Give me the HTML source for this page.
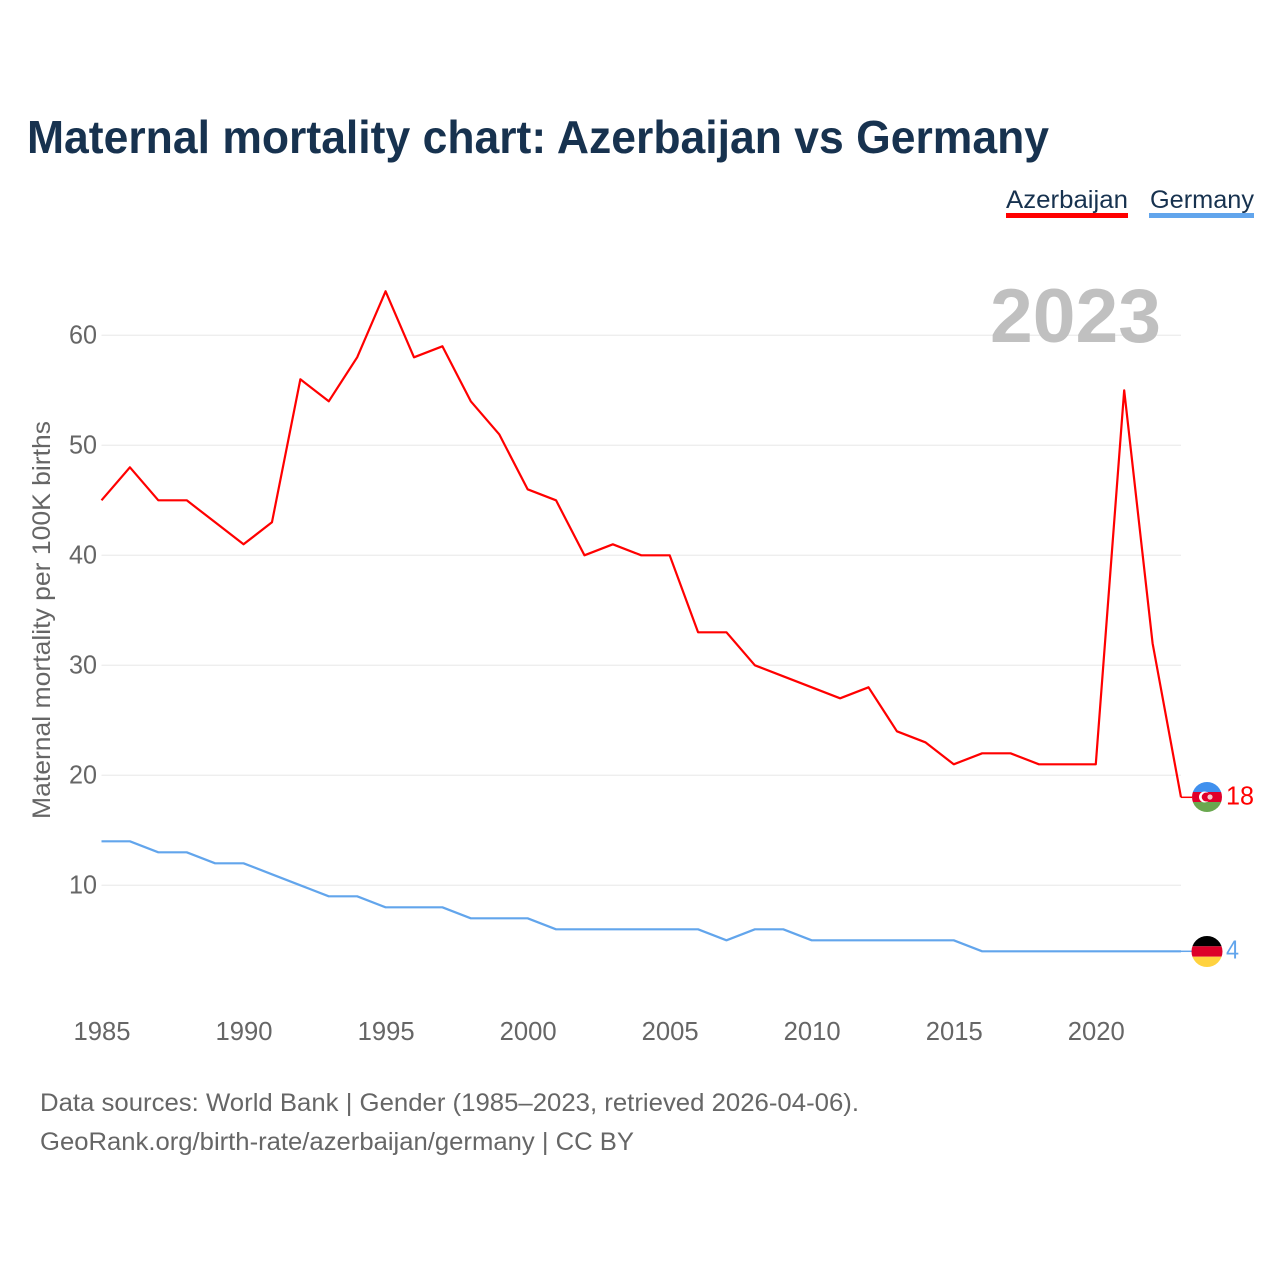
<!DOCTYPE html>
<html lang="en">
<head>
<meta charset="utf-8">
<title>Maternal mortality chart: Azerbaijan vs Germany</title>
<style>
html,body{margin:0;padding:0;background:#fff;}
svg{display:block;}
text{font-family:"Liberation Sans",sans-serif;}
</style>
</head>
<body>
<svg id="chart" xmlns="http://www.w3.org/2000/svg" width="1280" height="1280" viewBox="0 0 1280 1280">
  <rect x="0" y="0" width="1280" height="1280" fill="#fff"/>
  <text x="27" y="153" font-size="46" font-weight="700" fill="#17324f" textLength="1022" lengthAdjust="spacingAndGlyphs">Maternal mortality chart: Azerbaijan vs Germany</text>

  <g>
    <text x="1006" y="208" font-size="25" fill="#17324f" textLength="122" lengthAdjust="spacingAndGlyphs">Azerbaijan</text>
    <rect x="1006" y="213" width="122" height="5" fill="#ff0000"/>
  </g>
  <g>
    <text x="1150" y="208" font-size="25" fill="#17324f" textLength="104" lengthAdjust="spacingAndGlyphs">Germany</text>
    <rect x="1149" y="213" width="105" height="5" fill="#62a5ec"/>
  </g>

  <g id="grid"></g>
  <g id="y-ticks"></g>
  <g id="x-ticks"></g>
  <text transform="translate(50,620) rotate(-90)" text-anchor="middle" font-size="25" fill="#666" textLength="398" lengthAdjust="spacingAndGlyphs">Maternal mortality per 100K births</text>
  <text id="year-label" x="990" y="342" font-size="76" font-weight="700" fill="#c0c0c0" textLength="171" lengthAdjust="spacingAndGlyphs">2023</text>
  <g id="series"></g>

  <defs>
    <clipPath id="flag-az-clip"><circle id="flag-az-circle" cx="1207" cy="797" r="15"/></clipPath>
    <clipPath id="flag-de-clip"><circle id="flag-de-circle" cx="1207" cy="951.500" r="15.500"/></clipPath>
  </defs>
  <g id="flag-az" clip-path="url(#flag-az-clip)">
    <rect x="1192" y="782" width="30" height="10" fill="#4090ee"/>
    <rect x="1192" y="792" width="30" height="10.500" fill="#e0002b"/>
    <rect x="1192" y="802" width="30" height="10" fill="#6aa84f"/>
    <circle cx="1204.500" cy="797" r="5.500" fill="#fff"/>
    <circle cx="1206.200" cy="797" r="4.500" fill="#e0002b"/>
    <circle cx="1210" cy="797" r="2.600" fill="#f7c9cf"/>
  </g>
  <g id="flag-de" clip-path="url(#flag-de-clip)">
    <rect x="1191" y="936" width="32" height="10.300" fill="#000"/>
    <rect x="1191" y="946.300" width="32" height="10.400" fill="#dd0029"/>
    <rect x="1191" y="956.700" width="32" height="10.300" fill="#ffd23f"/>
  </g>
  <text id="end-az" x="1226" y="804" font-size="25.500" fill="#ff0000" textLength="28" lengthAdjust="spacingAndGlyphs"></text>
  <text id="end-de" x="1226" y="958" font-size="25.500" fill="#62a5ec" textLength="13" lengthAdjust="spacingAndGlyphs"></text>

  <text x="40" y="1111" font-size="25" fill="#666" textLength="819" lengthAdjust="spacingAndGlyphs">Data sources: World Bank | Gender (1985–2023, retrieved 2026-04-06).</text>
  <text x="40" y="1150" font-size="25" fill="#666" textLength="594" lengthAdjust="spacingAndGlyphs">GeoRank.org/birth-rate/azerbaijan/germany | CC BY</text>
</svg>
<script>
const years = [1985,1986,1987,1988,1989,1990,1991,1992,1993,1994,1995,1996,1997,1998,1999,2000,2001,2002,2003,2004,2005,2006,2007,2008,2009,2010,2011,2012,2013,2014,2015,2016,2017,2018,2019,2020,2021,2022,2023];
const azerbaijan = [45,48,45,45,43,41,43,56,54,58,64,58,59,54,51,46,45,40,41,40,40,33,33,30,29,28,27,28,24,23,21,22,22,21,21,21,55,32,18];
const germany = [14,14,13,13,12,12,11,10,9,9,8,8,8,7,7,7,6,6,6,6,6,6,5,6,6,5,5,5,5,5,5,4,4,4,4,4,4,4,4];
const yTickValues = [10,20,30,40,50,60];
const xTickValues = [1985,1990,1995,2000,2005,2010,2015,2020];

const NS = 'http://www.w3.org/2000/svg';
const plotLeft = 101.5, plotRight = 1181, plotBaseY = 995.3, pxPerUnit = 11;
const firstYear = years[0], lastYear = years[years.length - 1];
function xScale(year) { return plotLeft + (year - firstYear) * (plotRight - plotLeft) / (lastYear - firstYear); }
function yScale(value) { return plotBaseY - value * pxPerUnit; }
function make(tag, parent, attrs) {
  const el = document.createElementNS(NS, tag);
  for (const k in attrs) el.setAttribute(k, attrs[k]);
  parent.appendChild(el);
  return el;
}

const gridGroup = document.getElementById('grid');
const yGroup = document.getElementById('y-ticks');
yTickValues.forEach(function (v) {
  const line = make('line', gridGroup, { x1: plotLeft, x2: plotRight, y1: yScale(v), y2: yScale(v), stroke: '#eeeeee', 'stroke-width': 1.3 });
  
  
  const label = make('text', yGroup, { x: 97, y: yScale(v) + 8, 'text-anchor': 'end', 'font-size': 25.5, fill: '#666', textLength: 28, lengthAdjust: 'spacingAndGlyphs' });
  
  
  label.textContent = v;
});

const xGroup = document.getElementById('x-ticks');
xTickValues.forEach(function (y) {
  const label = make('text', xGroup, { x: xScale(y) + 0.5, y: 1040, 'text-anchor': 'middle', 'font-size': 25.5, fill: '#666', textLength: 57, lengthAdjust: 'spacingAndGlyphs' });
  
  
  label.textContent = y;
});

function linePoints(values) {
  return values.map(function (v, i) { return xScale(years[i]).toFixed(2) + ',' + yScale(v).toFixed(2); }).join(' ');
}
const seriesGroup = document.getElementById('series');

const germanyLine = make('polyline', seriesGroup, { points: linePoints(germany), fill: 'none', stroke: '#62a5ec', 'stroke-width': 2.2, 'stroke-linejoin': 'round' });



const azerbaijanLine = make('polyline', seriesGroup, { points: linePoints(azerbaijan), fill: 'none', stroke: '#ff0000', 'stroke-width': 2.2, 'stroke-linejoin': 'round' });



const lastAz = azerbaijan[azerbaijan.length - 1];
const lastDe = germany[germany.length - 1];

const leaderAz = make('line', seriesGroup, { x1: plotRight, x2: 1192, y1: yScale(lastAz), y2: yScale(lastAz), stroke: '#ff0000', 'stroke-width': 1.5 });



const leaderDe = make('line', seriesGroup, { x1: plotRight, x2: 1192, y1: yScale(lastDe), y2: yScale(lastDe), stroke: '#62a5ec', 'stroke-width': 1.5 });



const azShift = yScale(lastAz) - yScale(18);
const deShift = yScale(lastDe) - yScale(4);
document.getElementById('end-az').textContent = lastAz;
document.getElementById('end-az').setAttribute('y', yScale(lastAz) + 7);
document.getElementById('end-de').textContent = lastDe;
document.getElementById('end-de').setAttribute('y', yScale(lastDe) + 7);
document.getElementById('flag-az').setAttribute('transform', 'translate(0,' + azShift + ')');
document.getElementById('flag-de').setAttribute('transform', 'translate(0,' + deShift + ')');
document.getElementById('year-label').textContent = lastYear;
</script>
</body>
</html>
